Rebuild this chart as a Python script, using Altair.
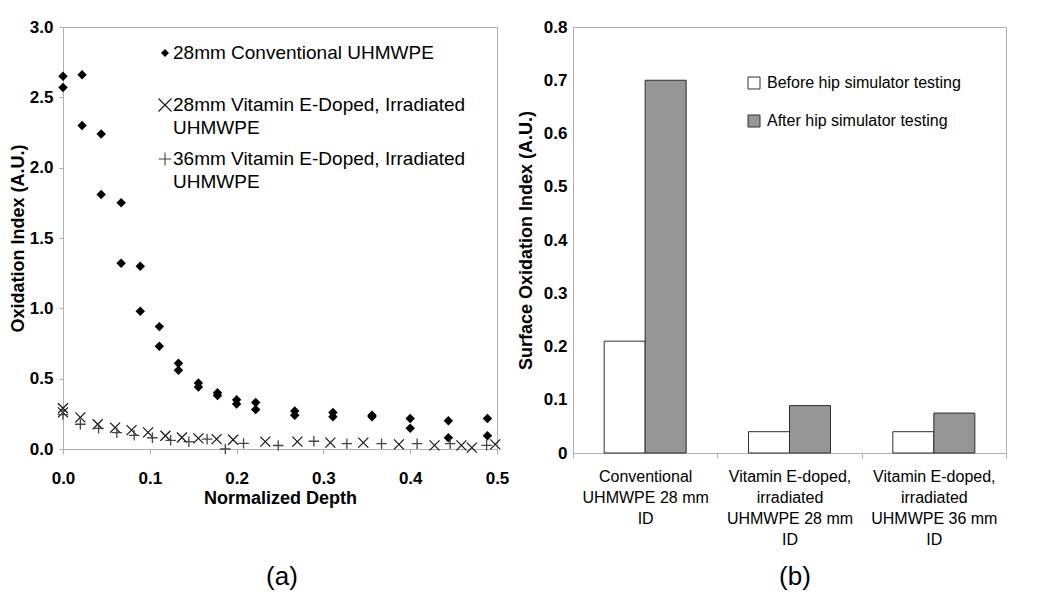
import altair as alt
import pandas as pd

# ---------------- data ----------------
series_names = [
    "28mm Conventional UHMWPE",
    "28mm Vitamin E-Doped, Irradiated UHMWPE",
    "36mm Vitamin E-Doped, Irradiated UHMWPE",
]

conv_depth = [0, 0, 0.022, 0.022, 0.044, 0.044, 0.067, 0.067, 0.089, 0.089,
              0.111, 0.111, 0.133, 0.133, 0.156, 0.156, 0.178, 0.178, 0.2, 0.2,
              0.222, 0.222, 0.267, 0.267, 0.311, 0.311, 0.356, 0.356, 0.4, 0.4,
              0.444, 0.444, 0.489, 0.489]
conv_oi = [2.65, 2.57, 2.66, 2.30, 2.24, 1.81, 1.75, 1.32, 1.30, 0.98,
           0.87, 0.73, 0.61, 0.56, 0.47, 0.44, 0.40, 0.38, 0.35, 0.32,
           0.33, 0.28, 0.27, 0.24, 0.26, 0.23, 0.24, 0.23, 0.216, 0.147,
           0.20, 0.08, 0.216, 0.094]

ve28_depth = [0, 0, 0.02, 0.04, 0.06, 0.079, 0.098, 0.118, 0.137, 0.156,
              0.177, 0.196, 0.233, 0.27, 0.308, 0.346, 0.387, 0.428, 0.459,
              0.471, 0.498]
ve28_oi = [0.29, 0.26, 0.225, 0.176, 0.152, 0.134, 0.118, 0.094, 0.082, 0.075,
           0.07, 0.066, 0.052, 0.052, 0.045, 0.045, 0.033, 0.026, 0.026,
           0.01, 0.033]

ve36_depth = [0, 0.02, 0.041, 0.062, 0.082, 0.103, 0.124, 0.145, 0.166, 0.187,
              0.208, 0.248, 0.289, 0.327, 0.367, 0.408, 0.446, 0.488]
ve36_oi = [0.245, 0.176, 0.147, 0.116, 0.097, 0.08, 0.062, 0.052, 0.07, 0.0,
           0.04, 0.025, 0.055, 0.038, 0.038, 0.038, 0.038, 0.026]

bar_categories = [
    "Conventional|UHMWPE 28 mm|ID",
    "Vitamin E-doped,|irradiated|UHMWPE 28 mm|ID",
    "Vitamin E-doped,|irradiated|UHMWPE 36 mm|ID",
]
phases = ["Before hip simulator testing", "After hip simulator testing"]
before_vals = [0.21, 0.04, 0.04]
after_vals = [0.70, 0.089, 0.075]

depth_ticks = [0, 0.1, 0.2, 0.3, 0.4, 0.5]
oi_ticks = [0, 0.5, 1.0, 1.5, 2.0, 2.5, 3.0]
surf_ticks = [0, 0.1, 0.2, 0.3, 0.4, 0.5, 0.6, 0.7, 0.8]

# ---------------- style ----------------
FONT = "Liberation Sans"
FRAME = "#b0b0b0"
W1, H1 = 434, 422
W2, H2 = 433, 426
XPATH = "M-1,-1L1,1M-1,1L1,-1"
PLUS = "M-1,0L1,0M0,-1L0,1"

# ---------------- left panel ----------------
x_enc = alt.X("depth:Q",
              scale=alt.Scale(domain=[0, 0.5], nice=False, zero=False),
              axis=alt.Axis(title="Normalized Depth", values=depth_ticks,
                            format=".1f", labelFlush=False, tickSize=5,
                            labelPadding=16, titlePadding=3))
y_enc = alt.Y("oi:Q",
              scale=alt.Scale(domain=[0, 3], nice=False),
              axis=alt.Axis(title="Oxidation Index (A.U.)", values=oi_ticks,
                            format=".1f", tickSize=4, labelPadding=6,
                            titlePadding=2))

conv_df = pd.DataFrame({"depth": conv_depth, "oi": conv_oi})
ve28_df = pd.DataFrame({"depth": ve28_depth, "oi": ve28_oi})
ve36_df = pd.DataFrame({"depth": ve36_depth, "oi": ve36_oi})

conv_pts = alt.Chart(conv_df).mark_point(
    shape="diamond", filled=True, color="black", size=90, opacity=1
).encode(x=x_enc, y=y_enc)
ve28_pts = alt.Chart(ve28_df).mark_point(
    shape=XPATH, filled=False, color="#151515", strokeWidth=1.2, size=100, opacity=1
).encode(x="depth:Q", y="oi:Q")
ve36_pts = alt.Chart(ve36_df).mark_point(
    shape=PLUS, filled=False, color="#444444", strokeWidth=1.3, size=110, opacity=1
).encode(x="depth:Q", y="oi:Q")

# manual legend (inside plot area)
legend_y = [26, 78, 132]
legend_shapes = ["diamond", XPATH, PLUS]
legend_sizes = [64, 169, 169]
legend_filled = [True, False, False]
legend_colors = ["black", "#151515", "#444444"]
LINE_H = 23
legend_layers = []
text_rows = []
for i, name in enumerate(series_names):
    legend_layers.append(
        alt.Chart(pd.DataFrame({"series": [name], "ly": [legend_y[i]]}))
        .mark_point(shape=legend_shapes[i], filled=legend_filled[i],
                    color=legend_colors[i], size=legend_sizes[i],
                    strokeWidth=1.1, opacity=1)
        .encode(x=alt.value(102), y=alt.Y("ly:Q", scale=None))
    )
    words = name.split(" ")
    lines = [name] if len(name) <= 32 else [" ".join(words[:-1]), words[-1]]
    for j, ln in enumerate(lines):
        text_rows.append({"line": ln, "ly": legend_y[i] + j * LINE_H})
legend_text = alt.Chart(pd.DataFrame(text_rows)).mark_text(
    align="left", baseline="middle", font=FONT, fontSize=19, color="black"
).encode(x=alt.value(110), y=alt.Y("ly:Q", scale=None), text="line:N")

cap_a = alt.Chart(pd.DataFrame({"t": ["(a)"]})).mark_text(
    font=FONT, fontSize=26, color="black", baseline="middle", align="center"
).encode(x=alt.value(W1 / 2 + 2), y=alt.value(550), text="t:N")

left = alt.layer(conv_pts, ve28_pts, ve36_pts, *legend_layers, legend_text,
                 cap_a).properties(width=W1, height=H1)

# ---------------- right panel ----------------
bars_df = pd.DataFrame({
    "category": bar_categories * 2,
    "phase": [phases[0]] * len(bar_categories) + [phases[1]] * len(bar_categories),
    "value": before_vals + after_vals,
})

bars = alt.Chart(bars_df).mark_bar(stroke="#2e2e2e", strokeWidth=1).encode(
    x=alt.X("category:N", sort=bar_categories,
            scale=alt.Scale(paddingInner=0, paddingOuter=0),
            axis=alt.Axis(title=None, labelAngle=0, tickBand="extent",
                          tickSize=5, labelExpr="split(datum.label, '|')",
                          labelBaseline="top", labelLineHeight=21,
                          labelFontSize=16, labelFontWeight="normal",
                          labelPadding=10, labelLimit=400)),
    xOffset=alt.XOffset("phase:N", sort=phases,
                        scale=alt.Scale(paddingInner=0, paddingOuter=0.76)),
    y=alt.Y("value:Q", scale=alt.Scale(domain=[0, 0.8], nice=False),
            axis=alt.Axis(title="Surface Oxidation Index (A.U.)",
                          values=surf_ticks, ticks=False, labelPadding=6,
                          titlePadding=8,
                          labelExpr="datum.value == 0 ? '0' : format(datum.value, '.1f')")),
    fill=alt.Fill("phase:N", sort=phases,
                  scale=alt.Scale(domain=phases, range=["white", "#969696"]),
                  legend=alt.Legend(title=None, orient="none", legendX=173,
                                    legendY=48, symbolType="square",
                                    symbolSize=144, symbolStrokeColor="#2e2e2e",
                                    symbolStrokeWidth=1, labelFont=FONT,
                                    labelFontSize=16, labelColor="black",
                                    labelFontWeight="normal", labelLimit=400,
                                    rowPadding=22, labelOffset=5, padding=0)),
)

cap_b = alt.Chart(pd.DataFrame({"t": ["(b)"]})).mark_text(
    font=FONT, fontSize=26, color="black", baseline="middle", align="center"
).encode(x=alt.value(222), y=alt.value(550), text="t:N")

right = alt.layer(bars, cap_b).properties(width=W2, height=H2)

chart = (
    alt.hconcat(left, right, spacing=6)
    .resolve_scale(fill="independent")
    .resolve_legend(fill="independent")
    .properties(padding={"left": 0, "top": 9, "right": 5, "bottom": 0},
                background="white")
    .configure_view(stroke=FRAME, strokeWidth=1)
    .configure_axis(labelFont=FONT, labelFontSize=17, labelFontWeight="bold",
                    labelColor="black", titleFont=FONT, titleFontSize=18,
                    titleFontWeight="bold", titleColor="black",
                    domainColor=FRAME, tickColor=FRAME, grid=False)
)

chart.save("out.html", embed_options={"renderer": "svg", "actions": False})
